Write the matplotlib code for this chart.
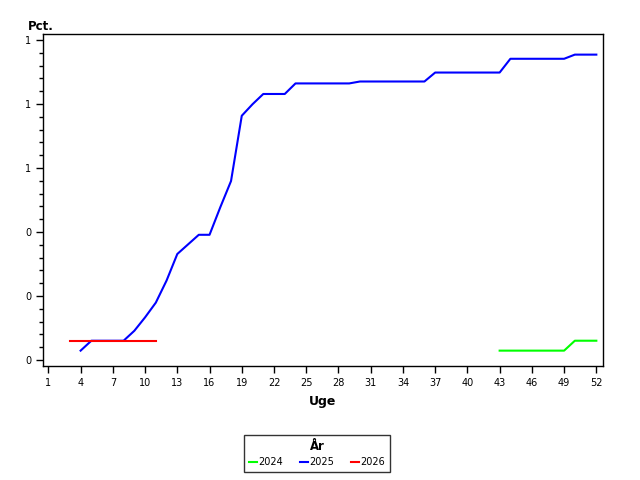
import matplotlib
matplotlib.use('Agg')
import matplotlib.pyplot as plt
from matplotlib.ticker import FixedLocator, MultipleLocator, FuncFormatter

# uge-numre og andele aflaest fra figuren
weeks_2024 = [43, 44, 45, 46, 47, 48, 49, 50, 51, 52]
pct_2024 = [0.029, 0.029, 0.029, 0.029, 0.029, 0.029, 0.029, 0.060, 0.060, 0.060]

weeks_2025 = list(range(4, 53))
pct_2025 = [0.029, 0.060, 0.060, 0.060, 0.060, 0.091, 0.133, 0.179, 0.248, 0.331,
            0.361, 0.391, 0.391, 0.477, 0.559, 0.763, 0.799, 0.831, 0.831, 0.831,
            0.864, 0.864, 0.864, 0.864, 0.864, 0.864, 0.870, 0.870, 0.870, 0.870,
            0.870, 0.870, 0.870, 0.898, 0.898, 0.898, 0.898, 0.898, 0.898, 0.898,
            0.941, 0.941, 0.941, 0.941, 0.941, 0.941, 0.954, 0.954, 0.954]

weeks_2026 = [3, 4, 5, 6, 7, 8, 9, 10, 11]
pct_2026 = [0.060] * 9

xticks = list(range(1, 53, 3))

fig = plt.figure(figsize=(6.4, 4.8), dpi=100)
ax = fig.add_axes([43 / 640, 114 / 480, 560 / 640, 332.5 / 480])

ax.plot(weeks_2024, pct_2024, color='#00ff00', lw=1.5, label='2024')
ax.plot(weeks_2025, pct_2025, color='#0000ff', lw=1.5, label='2025')
ax.plot(weeks_2026, pct_2026, color='#ff0000', lw=1.5, label='2026')

ax.set_xlim(0.5, 52.62)
ax.set_ylim(-0.019, 1.02)
ax.xaxis.set_major_locator(FixedLocator(xticks))
ax.yaxis.set_major_locator(MultipleLocator(0.2))
ax.yaxis.set_minor_locator(MultipleLocator(0.04))
ax.yaxis.set_major_formatter(FuncFormatter(lambda v, p: f'{v:.0f}'))
ax.tick_params(axis='both', which='major', labelsize=7, length=5, width=1)
ax.tick_params(axis='y', which='minor', length=3, width=1)
for s in ax.spines.values():
    s.set_linewidth(1)

fig.text(28 / 640, 1 - 27 / 480, 'Pct.', fontsize=8.5, fontweight='bold',
         va='center', ha='left')
ax.set_xlabel('Uge', fontsize=9, fontweight='bold', labelpad=5)

leg = fig.legend(loc='center', bbox_to_anchor=(317 / 640, 1 - 453.5 / 480), ncol=3,
                 fontsize=7, title='År', handlelength=0.8, handletextpad=0.1,
                 columnspacing=1.8, frameon=True, fancybox=False, borderpad=0.5,
                 title_fontproperties={'weight': 'bold', 'size': 8.5})
leg.get_frame().set_edgecolor('black')
leg.get_frame().set_linewidth(1)

fig.savefig('out.png', dpi=100)
